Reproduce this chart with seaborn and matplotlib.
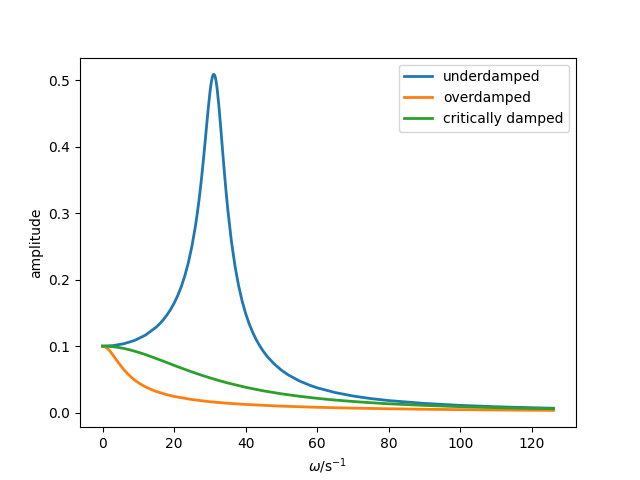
import matplotlib
matplotlib.use("Agg")
import matplotlib.pyplot as plt
import seaborn as sns

# underdamped
w_under = [0, 3, 6, 9, 12, 15, 16, 17, 18, 19, 20, 21, 22, 23, 24, 25, 26, 26.5, 27, 27.5,
           28, 28.5, 29, 29.5, 30, 30.25, 30.5, 30.75, 31, 31.25, 31.5, 31.75, 32, 32.5,
           33, 33.5, 34, 34.5, 35, 36, 37, 38, 39, 40, 41, 42, 43, 44, 45, 46, 48, 50,
           52, 55, 58, 60, 65, 70, 75, 80, 90, 100, 110, 120, 126]
a_under = [0.1, 0.1009, 0.1037, 0.1087, 0.1166, 0.1286, 0.1338, 0.1399, 0.1469, 0.1550,
           0.1646, 0.1760, 0.1895, 0.2060, 0.2260, 0.2510, 0.2822, 0.3007, 0.3215, 0.3446,
           0.3702, 0.3979, 0.4268, 0.4556, 0.4812, 0.4918, 0.5002, 0.5059, 0.5087, 0.5083,
           0.5046, 0.4978, 0.4881, 0.4621, 0.4304, 0.3969, 0.3641, 0.3334, 0.3054, 0.2581,
           0.2209, 0.1915, 0.1679, 0.1489, 0.1332, 0.1202, 0.1092, 0.0998, 0.0917, 0.0846,
           0.0730, 0.0638, 0.0564, 0.0477, 0.0410, 0.0373, 0.0302, 0.0250, 0.0211, 0.01814,
           0.01382, 0.01091, 0.00886, 0.00734, 0.00661]

# overdamped
w_over = [0, 0.5, 1, 1.5, 2, 2.5, 3, 3.5, 4, 4.5, 5, 6, 7, 8, 9, 10, 11, 12, 13.5, 15, 18,
          20, 25, 30, 35, 40, 50, 60, 70, 80, 90, 100, 110, 120, 126]
a_over = [0.1, 0.0995, 0.0981, 0.0959, 0.0930, 0.0896, 0.0860, 0.0822, 0.0784, 0.0747,
          0.0711, 0.0644, 0.0585, 0.0534, 0.0489, 0.0451, 0.0417, 0.0388, 0.0350, 0.0319,
          0.0269, 0.0244, 0.0197, 0.0164, 0.0141, 0.0123, 0.00975, 0.00803, 0.00678,
          0.00584, 0.00509, 0.00449, 0.00400, 0.00359, 0.00337]

# critically damped
w_crit = [0, 1.5, 3, 4.5, 6, 7.5, 9, 10, 12, 15, 18, 20, 22.5, 25, 27.5, 30, 32.5, 35, 40,
          45, 50, 55, 60, 65, 70, 75, 80, 90, 100, 110, 120, 126]
a_crit = [0.1, 0.0998, 0.0991, 0.0980, 0.0965, 0.0946, 0.0924, 0.0908, 0.0873, 0.0814,
          0.0753, 0.0711, 0.0661, 0.0612, 0.0566, 0.0523, 0.0483, 0.0446, 0.0381, 0.0327,
          0.0283, 0.0246, 0.0215, 0.0189, 0.0168, 0.0149, 0.0133, 0.0109, 0.00898,
          0.00753, 0.00641, 0.00585]

labels = ["underdamped", "overdamped", "critically damped"]
colors = sns.color_palette("tab10", 3)

fig, ax = plt.subplots(figsize=(6.4, 4.8), dpi=100)
for (w, a), lab, c in zip([(w_under, a_under), (w_over, a_over), (w_crit, a_crit)], labels, colors):
    sns.lineplot(x=w, y=a, ax=ax, label=lab, color=c, linewidth=2, sort=False)

ax.set_xlabel(r"$\omega$/s$^{-1}$")
ax.set_ylabel("amplitude")
ax.set_xticks([0, 20, 40, 60, 80, 100, 120])
ax.set_yticks([0.0, 0.1, 0.2, 0.3, 0.4, 0.5])
ax.legend(loc="upper right")
fig.savefig("out.png", dpi=100)
